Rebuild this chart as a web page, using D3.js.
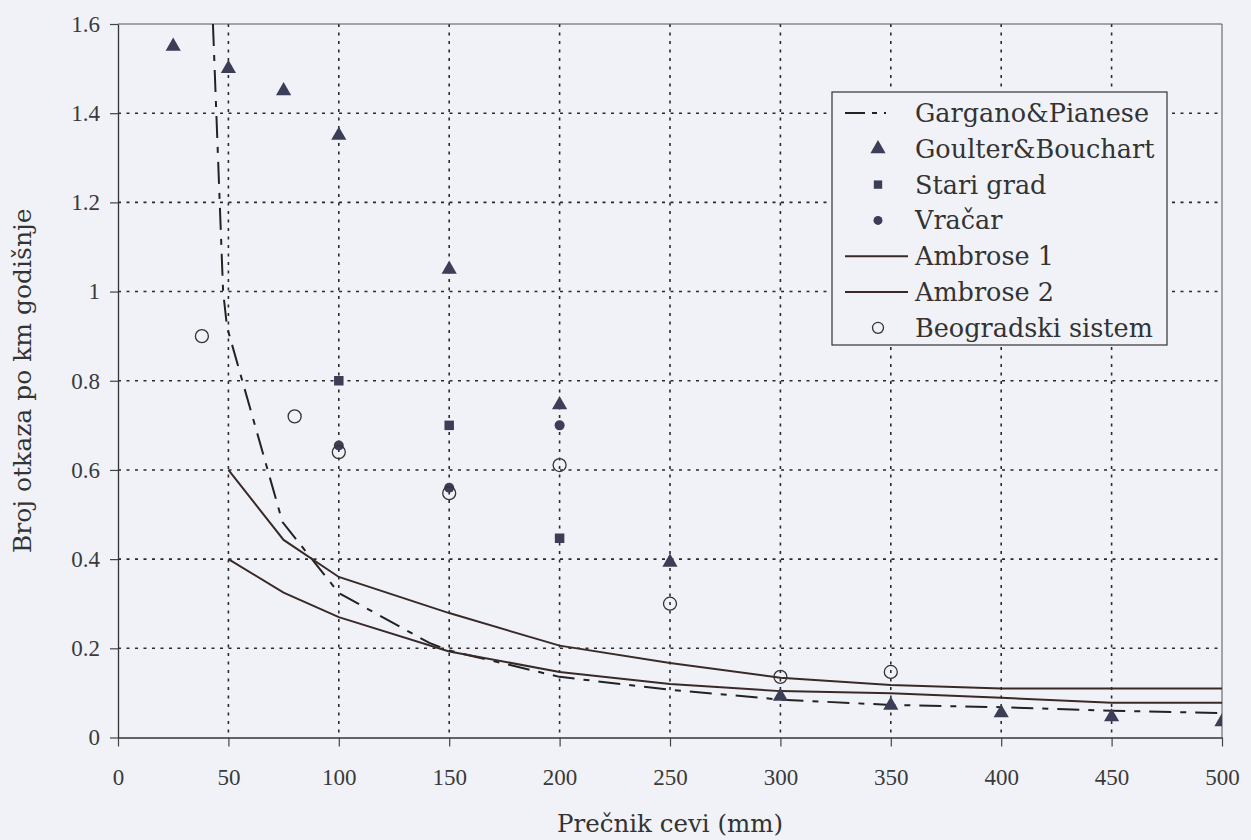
<!DOCTYPE html>
<html><head><meta charset="utf-8">
<script src="https://cdn.jsdelivr.net/npm/d3@7"></script>
<style>
html,body{margin:0;padding:0;background:#f1f2f7;}
svg{display:block;}
</style></head><body>
<svg id="c" width="1251" height="840"></svg>
<script>
// ---- data ----
const xTicks = [0, 50, 100, 150, 200, 250, 300, 350, 400, 450, 500];
const yTicks = [0, 0.2, 0.4, 0.6, 0.8, 1, 1.2, 1.4, 1.6];
const yTickLabels = ["0", "0.2", "0.4", "0.6", "0.8", "1", "1.2", "1.4", "1.6"];
const xLabel = "Prečnik cevi (mm)";
const yLabel = "Broj otkaza po km godišnje";
const legendNames = ["Gargano&Pianese", "Goulter&Bouchart", "Stari grad", "Vračar", "Ambrose 1", "Ambrose 2", "Beogradski sistem"];

const garganoX = [43, 47.6, 49.4, 74.5, 100, 141, 150, 200, 250, 300, 350, 400, 450, 500];
const garganoY = [1.6, 1.0, 0.92, 0.483, 0.324, 0.212, 0.195, 0.136, 0.107, 0.085, 0.073, 0.068, 0.06, 0.055];

const ambrose1X = [50, 75, 100, 150, 200, 250, 300, 350, 400, 450, 500];
const ambrose1Y = [0.6, 0.443, 0.36, 0.279, 0.206, 0.167, 0.134, 0.118, 0.11, 0.11, 0.11];

const ambrose2X = [50, 75, 100, 150, 200, 250, 300, 350, 400, 450, 500];
const ambrose2Y = [0.4, 0.325, 0.27, 0.193, 0.147, 0.12, 0.104, 0.099, 0.089, 0.078, 0.078];

const goulterX = [25, 50, 75, 100, 150, 200, 250, 300, 350, 400, 450, 500];
const goulterY = [1.55, 1.50, 1.45, 1.35, 1.05, 0.746, 0.393, 0.092, 0.072, 0.055, 0.046, 0.035];

const stariX = [100, 150, 200];
const stariY = [0.80, 0.70, 0.447];

const vracarX = [100, 150, 200];
const vracarY = [0.655, 0.56, 0.70];

const beogradX = [38, 80, 100, 150, 200, 250, 300, 350];
const beogradY = [0.90, 0.72, 0.64, 0.548, 0.611, 0.30, 0.136, 0.147];

// ---- layout ----
const svg = d3.select("#c");
const L = 118, R = 1222, T = 24, B = 737.5;
const x = d3.scaleLinear().domain([0, 500]).range([L, R]);
const y = d3.scaleLinear().domain([0, 1.6]).range([B, T]);
const ink = "#2a2a2e";
const lineCol = "#3a2a27";
const markCol = "#3b3e56";
const font = "'DejaVu Serif', serif";
const tickFont = "'Liberation Serif', 'Times New Roman', serif";

// grid
const grid = svg.append("g");
grid.selectAll("line.gx").data(xTicks.filter(d => d > 0 && d < 500)).enter().append("line")
  .attr("x1", d => x(d)).attr("x2", d => x(d)).attr("y1", T).attr("y2", B)
  .attr("stroke", ink).attr("stroke-width", 1.6).attr("stroke-dasharray", "3,5.5");
grid.selectAll("line.gy").data(yTicks.filter(d => d > 0 && d < 1.6)).enter().append("line")
  .attr("x1", L).attr("x2", R).attr("y1", d => y(d)).attr("y2", d => y(d))
  .attr("stroke", ink).attr("stroke-width", 1.6).attr("stroke-dasharray", "3,5.5");

// frame top/right
svg.append("line").attr("x1", L).attr("x2", R).attr("y1", T).attr("y2", T).attr("stroke", "#555").attr("stroke-width", 1.2);
svg.append("line").attr("x1", R).attr("x2", R).attr("y1", T).attr("y2", B).attr("stroke", "#555").attr("stroke-width", 1);

// clip
svg.append("clipPath").attr("id", "clip").append("rect").attr("x", L).attr("y", T).attr("width", R - L).attr("height", B - T);

const line = d3.line().x(d => x(d[0])).y(d => y(d[1]));
const plot = svg.append("g").attr("clip-path", "url(#clip)");

plot.append("path").datum(garganoX.map((v, i) => [v, garganoY[i]]))
  .attr("d", line).attr("fill", "none").attr("stroke", "#222").attr("stroke-width", 2)
  .attr("stroke-dasharray", "22,9,6,9");
plot.append("path").datum(ambrose1X.map((v, i) => [v, ambrose1Y[i]]))
  .attr("d", line).attr("fill", "none").attr("stroke", lineCol).attr("stroke-width", 2);
plot.append("path").datum(ambrose2X.map((v, i) => [v, ambrose2Y[i]]))
  .attr("d", line).attr("fill", "none").attr("stroke", lineCol).attr("stroke-width", 2);

// markers
const tri = d3.symbol().type(d3.symbolTriangle).size(100);
const sq = d3.symbol().type(d3.symbolSquare).size(90);
plot.selectAll("path.gb").data(goulterX.map((v, i) => [v, goulterY[i]])).enter().append("path")
  .attr("d", tri).attr("transform", d => `translate(${x(d[0])},${y(d[1])})`).attr("fill", markCol);
plot.selectAll("path.sg").data(stariX.map((v, i) => [v, stariY[i]])).enter().append("path")
  .attr("d", sq).attr("transform", d => `translate(${x(d[0])},${y(d[1])})`).attr("fill", markCol);
plot.selectAll("circle.vr").data(vracarX.map((v, i) => [v, vracarY[i]])).enter().append("circle")
  .attr("cx", d => x(d[0])).attr("cy", d => y(d[1])).attr("r", 5).attr("fill", markCol);
plot.selectAll("circle.bg").data(beogradX.map((v, i) => [v, beogradY[i]])).enter().append("circle")
  .attr("cx", d => x(d[0])).attr("cy", d => y(d[1])).attr("r", 6.5).attr("fill", "none")
  .attr("stroke", "#333").attr("stroke-width", 1.3);

// axes
const xAxis = d3.axisBottom(x).tickValues(xTicks).tickSize(9).tickSizeOuter(0).tickPadding(22).tickFormat(d3.format("d"));
const gx = svg.append("g").attr("transform", `translate(0,${B})`).call(xAxis);
gx.select(".domain").attr("stroke", "#333").attr("stroke-width", 1.5);
gx.selectAll(".tick line").attr("stroke", "#444").attr("stroke-width", 1.2);
gx.selectAll(".tick text").attr("font-family", tickFont).attr("font-size", 23).attr("fill", "#3a3a3a");

const yAxis = d3.axisLeft(y).tickValues(yTicks).tickSize(8).tickSizeOuter(0).tickPadding(10)
  .tickFormat((d, i) => yTickLabels[i]);
const gy = svg.append("g").attr("transform", `translate(${L},0)`).call(yAxis);
gy.select(".domain").attr("stroke", "#333").attr("stroke-width", 1.3);
gy.selectAll(".tick line").attr("stroke", "#444").attr("stroke-width", 1.2);
gy.selectAll(".tick text").attr("font-family", tickFont).attr("font-size", 23).attr("fill", "#3a3a3a");

// axis titles
svg.append("text").attr("x", (L + R) / 2).attr("y", 832).attr("text-anchor", "middle")
  .attr("font-family", font).attr("font-size", 24.5).attr("fill", "#333").text(xLabel);
svg.append("text").attr("transform", `translate(31,${(T + B) / 2}) rotate(-90)`).attr("text-anchor", "middle")
  .attr("font-family", font).attr("font-size", 25).attr("fill", "#333").text(yLabel);

// legend
const lg = svg.append("g");
lg.append("rect").attr("x", 832).attr("y", 92).attr("width", 335).attr("height", 253)
  .attr("fill", "#f1f2f7").attr("stroke", "#333").attr("stroke-width", 1.2);
const rowY = i => 113 + 35.8 * i;
lg.selectAll("text").data(legendNames).enter().append("text")
  .attr("x", 915).attr("y", (d, i) => rowY(i) + 9)
  .attr("font-family", font).attr("font-size", 25.5).attr("fill", "#333").text(d => d);
lg.append("line").attr("x1", 845).attr("x2", 910).attr("y1", rowY(0)).attr("y2", rowY(0))
  .attr("stroke", "#222").attr("stroke-width", 2).attr("stroke-dasharray", "20,7,5,7,2,30");
lg.append("path").attr("d", tri).attr("transform", `translate(878,${rowY(1)})`).attr("fill", markCol);
lg.append("path").attr("d", d3.symbol().type(d3.symbolSquare).size(70)).attr("transform", `translate(878,${rowY(2)})`).attr("fill", markCol);
lg.append("circle").attr("cx", 878).attr("cy", rowY(3)).attr("r", 4.5).attr("fill", markCol);
lg.append("line").attr("x1", 845).attr("x2", 908).attr("y1", rowY(4)).attr("y2", rowY(4)).attr("stroke", lineCol).attr("stroke-width", 2);
lg.append("line").attr("x1", 845).attr("x2", 908).attr("y1", rowY(5)).attr("y2", rowY(5)).attr("stroke", lineCol).attr("stroke-width", 2);
lg.append("circle").attr("cx", 878).attr("cy", rowY(6)).attr("r", 5.5).attr("fill", "none").attr("stroke", "#333").attr("stroke-width", 1.3);
</script>
</body></html>
